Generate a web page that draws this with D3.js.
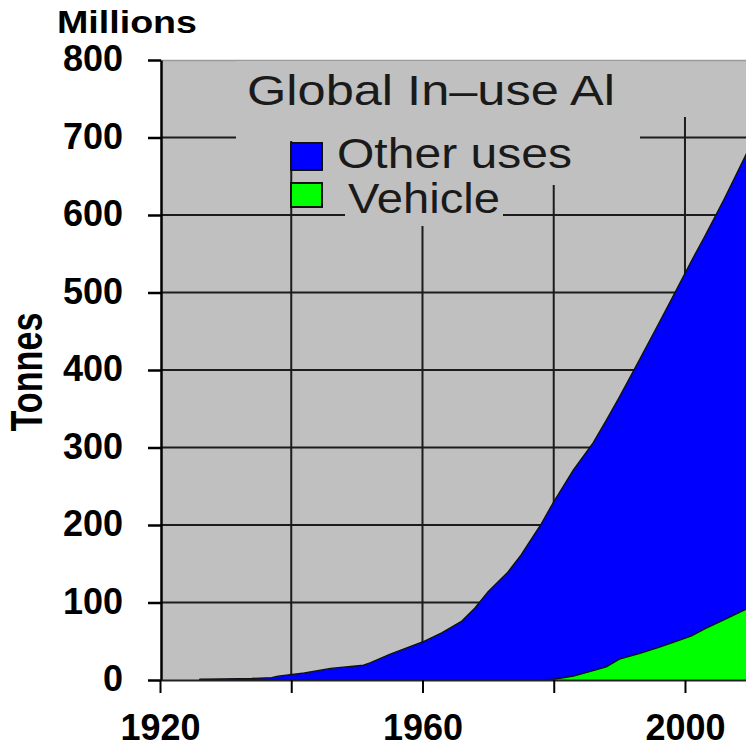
<!DOCTYPE html>
<html><head><meta charset="utf-8">
<script src="https://cdn.jsdelivr.net/npm/d3@7"></script>
<style>html,body{margin:0;padding:0;background:#fff;overflow:hidden}</style>
</head><body>
<svg id="chart" width="746" height="748"></svg>
<script>
// ---- data (millions of tonnes) ----
const years     = [1926,1930,1934,1937,1938,1942,1946,1951,1952,1955,1960,1963,1966,1968,1970,1973,1975,1978,1980,1983,1986,1988,1990,1993,1996,1998,2001,2003,2006,2010];
const otherUses = [1,1.5,2,3,5,9,15,19,22,33,49,61,76,93,114,139,161,200,229,266,294,318,338,378,418,444,484,506,543,596];
const vehicle   = [0,0,0,0,0,0,0,0,0,0,0,0,0,0,0,0,0,0,1,5,12,17,27,34,42,48,57,66,78,94];
const seriesKeys = ["other","vehicle"];
const seriesNames = ["Other uses","Vehicle"];
const seriesColors = ["#0000ff","#00ff00"];
const yTicks = [0,100,200,300,400,500,600,700,800];
const xTicks = [1920,1940,1960,1980,2000];
const xTickLabels = [1920,1960,2000];
const titleText = "Global In–use Al";
const unitText = "Millions";
const yTitle = "Tonnes";

// ---- layout ----
const plotLeft = 161, plotTop = 60, plotBottom = 680, plotRight = 746;
const FONT = "'Liberation Sans', Arial, sans-serif";
const GRAY = "#c0c0c0";

const svg = d3.select("#chart");
const x = d3.scaleLinear().domain([1920, 2010]).range([160, 750.6]);
const y = d3.scaleLinear().domain([0, 800]).range([plotBottom, plotTop]);

// plot background
svg.append("rect").attr("x", plotLeft).attr("y", plotTop)
  .attr("width", plotRight - plotLeft).attr("height", plotBottom - plotTop)
  .attr("fill", GRAY);
svg.append("line").attr("x1", plotLeft).attr("x2", plotRight)
  .attr("y1", plotTop + 0.5).attr("y2", plotTop + 0.5)
  .attr("stroke", "#9a9a9a").attr("stroke-width", 1.5);

// gridlines
const grid = svg.append("g").attr("stroke", "#1c1c1c").attr("stroke-width", 2);
grid.selectAll("line.h").data(yTicks.filter(v => v > 0 && v < 800)).join("line")
  .attr("class", "h").attr("x1", plotLeft).attr("x2", plotRight)
  .attr("y1", d => y(d)).attr("y2", d => y(d));
grid.selectAll("line.v").data(xTicks.filter(t => t > 1920)).join("line")
  .attr("class", "v").attr("x1", d => x(d)).attr("x2", d => x(d))
  .attr("y1", 117).attr("y2", plotBottom);

// background boxes behind title and legend text
const boxes = svg.append("g").attr("fill", GRAY);
boxes.append("rect").attr("x", 236).attr("y", 61).attr("width", 404).attr("height", 80);
boxes.append("rect").attr("x", 330).attr("y", 141).attr("width", 250).attr("height", 44);
boxes.append("rect").attr("x", 345).attr("y", 185).attr("width", 158).attr("height", 41);

// stacked areas
const table = years.map((yr, i) => ({year: yr, other: otherUses[i], vehicle: vehicle[i]}));
const stacked = d3.stack().keys(["vehicle", "other"])(table);
const area = d3.area().x(d => x(d.data.year)).y0(d => y(d[0])).y1(d => y(d[1]));
const topLine = d3.line().x(d => x(d.data.year)).y(d => y(d[1]));
const colorOf = k => seriesColors[seriesKeys.indexOf(k)];
const areas = svg.append("g");
areas.selectAll("path.a").data(stacked).join("path").attr("class", "a")
  .attr("d", area).attr("fill", d => colorOf(d.key));
areas.selectAll("path.l").data(stacked).join("path").attr("class", "l")
  .attr("d", topLine).attr("fill", "none").attr("stroke", "#111").attr("stroke-width", 1.4);

// axes
const yAxis = svg.append("g").attr("transform", `translate(${plotLeft},0)`)
  .call(d3.axisLeft(y).tickValues(yTicks).tickSize(13).tickPadding(25).tickSizeOuter(0));
yAxis.select(".domain").attr("stroke", "#000").attr("stroke-width", 2.5);
yAxis.selectAll(".tick line").attr("stroke", "#000").attr("stroke-width", 2.5);
yAxis.selectAll(".tick text").attr("font-family", FONT).attr("font-weight", "bold")
  .attr("font-size", 36).attr("fill", "#000").attr("dy", "0.30em");

const xAxis = svg.append("g").attr("transform", `translate(0,${plotBottom})`)
  .call(d3.axisBottom(x).tickValues(xTicks).tickSize(13).tickPadding(21).tickSizeOuter(0)
    .tickFormat(d => xTickLabels.includes(d) ? String(d) : ""));
xAxis.select(".domain").attr("stroke", "#222").attr("stroke-width", 2);
xAxis.selectAll(".tick line").attr("stroke", "#000").attr("stroke-width", 2);
xAxis.selectAll(".tick text").attr("font-family", FONT).attr("font-weight", "bold")
  .attr("font-size", 36).attr("fill", "#000");

// axis titles
svg.append("text").attr("x", 57).attr("y", 33).text(unitText)
  .attr("font-family", FONT).attr("font-weight", "bold").attr("font-size", 32)
  .attr("textLength", 140).attr("lengthAdjust", "spacingAndGlyphs");
svg.append("text").attr("transform", "translate(42,372) rotate(-90)")
  .attr("text-anchor", "middle").text(yTitle)
  .attr("font-family", FONT).attr("font-weight", "bold").attr("font-size", 44)
  .attr("textLength", 119).attr("lengthAdjust", "spacingAndGlyphs");

// chart title
svg.append("text").attr("x", 247).attr("y", 105).text(titleText)
  .attr("font-family", FONT).attr("font-size", 42).attr("fill", "#1a1a1a")
  .attr("textLength", 368).attr("lengthAdjust", "spacingAndGlyphs");

// legend
const legend = [
  {name: seriesNames[0], color: seriesColors[0], sx: 291, sy: 143, sw: 31, sh: 27, tx: 337, ty: 168, tl: 235},
  {name: seriesNames[1], color: seriesColors[1], sx: 291, sy: 183, sw: 31, sh: 24, tx: 348, ty: 213, tl: 152}
];
const lg = svg.append("g");
lg.selectAll("rect").data(legend).join("rect")
  .attr("x", d => d.sx).attr("y", d => d.sy).attr("width", d => d.sw).attr("height", d => d.sh)
  .attr("fill", d => d.color).attr("stroke", "#111").attr("stroke-width", 2);
lg.selectAll("text").data(legend).join("text")
  .attr("x", d => d.tx).attr("y", d => d.ty).text(d => d.name)
  .attr("font-family", FONT).attr("font-size", 42).attr("fill", "#1a1a1a")
  .attr("textLength", d => d.tl).attr("lengthAdjust", "spacingAndGlyphs");
</script>
</body></html>
